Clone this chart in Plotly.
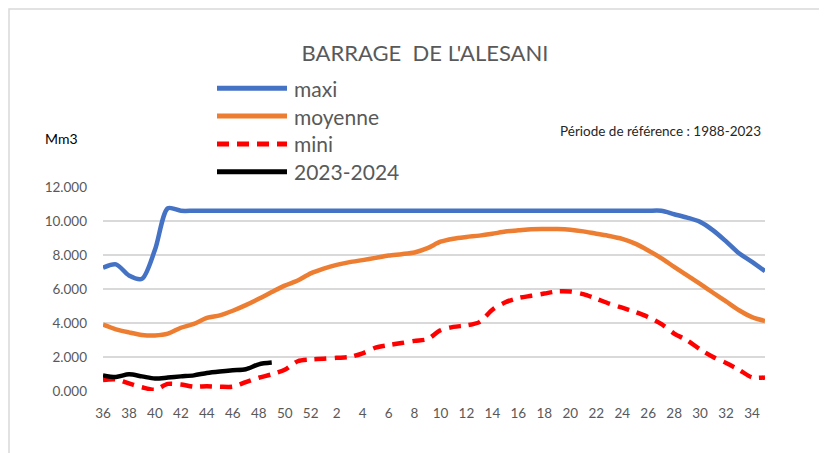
import plotly.graph_objects as go

# hydrological weeks, september -> august
weeks = ["36", "37", "38", "39", "40", "41", "42", "43", "44", "45", "46", "47", "48", "49", "50", "51", "52",
         "1", "2", "3", "4", "5", "6", "7", "8", "9", "10", "11", "12", "13", "14", "15", "16", "17", "18",
         "19", "20", "21", "22", "23", "24", "25", "26", "27", "28", "29", "30", "31", "32", "33", "34", "35"]

maxi = [7.25, 7.45, 6.8, 6.6, 8.3, 10.75, 10.6, 10.6, 10.6, 10.6, 10.6, 10.6, 10.6, 10.6, 10.6, 10.6, 10.6,
        10.6, 10.6, 10.6, 10.6, 10.6, 10.6, 10.6, 10.6, 10.6, 10.6, 10.6, 10.6, 10.6, 10.6, 10.6, 10.6, 10.6, 10.6,
        10.6, 10.6, 10.6, 10.6, 10.6, 10.6, 10.6, 10.6, 10.6, 10.4, 10.2, 9.95, 9.45, 8.8, 8.1, 7.6, 7.05]

moyenne = [3.9, 3.63, 3.45, 3.3, 3.27, 3.37, 3.72, 3.95, 4.3, 4.45, 4.72, 5.05, 5.42, 5.82, 6.2, 6.5, 6.92,
           7.2, 7.42, 7.58, 7.7, 7.83, 7.97, 8.05, 8.15, 8.4, 8.78, 8.96, 9.06, 9.14, 9.25, 9.38, 9.45, 9.52, 9.53,
           9.53, 9.49, 9.39, 9.25, 9.12, 8.95, 8.67, 8.27, 7.82, 7.3, 6.8, 6.3, 5.78, 5.27, 4.75, 4.35, 4.12]

mini = [0.65, 0.68, 0.45, 0.22, 0.08, 0.42, 0.38, 0.25, 0.28, 0.25, 0.25, 0.52, 0.78, 0.98, 1.25, 1.75, 1.85,
        1.9, 1.95, 2.0, 2.22, 2.55, 2.7, 2.82, 2.95, 3.05, 3.57, 3.77, 3.86, 4.05, 4.78, 5.22, 5.47, 5.6, 5.73,
        5.86, 5.85, 5.7, 5.43, 5.14, 4.9, 4.65, 4.35, 3.95, 3.38, 2.98, 2.45, 2.0, 1.65, 1.25, 0.8, 0.8]

current = [0.92, 0.83, 0.98, 0.86, 0.73, 0.79, 0.86, 0.92, 1.06, 1.15, 1.22, 1.28, 1.57, 1.67]

names = ["maxi", "moyenne", "mini", "2023-2024"]
colors = ["#4472C4", "#ED7D31", "#FF0000", "#000000"]
dashes = ["solid", "solid", "12px,8px", "solid"]
series = [maxi, moyenne, mini, current]

tick_weeks = weeks[::2]

# page body keeps its 8px margin, so the figure is drawn 8px in from the window corner
OFF = 8
W, H = 827 - OFF, 453 - OFF
L, R, T, B = 103 - OFF, 62, 187 - OFF, 62
FONT = "Lato"


def px(x):
    # window pixel -> paper x
    return (x - OFF - L) / (W - L - R)


def py(y):
    # window pixel -> paper y
    return (H - B - (y - OFF)) / (H - T - B)


fig = go.Figure()

for name, color, dash, values in zip(names, colors, dashes, series):
    fig.add_trace(go.Scatter(x=weeks[:len(values)], y=values, name=name, mode="lines",
                             line=dict(color=color, width=4.5, dash=dash, shape="spline", smoothing=0.8),
                             showlegend=False))

# legend drawn by hand so the swatches match the long excel ones
for i, (name, color, dash) in enumerate(zip(names, colors, dashes)):
    y = py(88.3 + i * 27.8)
    fig.add_shape(type="line", xref="paper", yref="paper", x0=px(217), x1=px(287), y0=y, y1=y,
                  line=dict(color=color, width=5, dash=dash))
    fig.add_annotation(text=name, xref="paper", yref="paper", x=px(292), y=y, xanchor="left",
                       yanchor="middle", showarrow=False, font=dict(family=FONT, size=21, color="#595959"))

fig.add_annotation(text="Mm3", xref="paper", yref="paper", x=px(43), y=py(138), xanchor="left",
                   yanchor="middle", showarrow=False, font=dict(family=FONT, size=14, color="#000000"))
fig.add_annotation(text="Période de référence : 1988-2023", xref="paper", yref="paper", x=px(763), y=py(130.5),
                   xanchor="right", yanchor="middle", showarrow=False,
                   font=dict(family=FONT, size=13.5, color="#262626"))

# chart frame (as close to the window corner as the page margin allows)
fig.add_shape(type="rect", xref="paper", yref="paper", x0=px(OFF + 1), x1=px(900), y0=py(500), y1=py(OFF + 1),
              line=dict(color="#d9d9d9", width=1.5), layer="below")

fig.update_layout(
    width=W, height=H, autosize=False,
    margin=dict(l=L, r=R, t=T, b=B),
    paper_bgcolor="white", plot_bgcolor="white",
    title=dict(text="BARRAGE  DE L'ALESANI", x=px(425), xref="paper", xanchor="center",
               y=1 - (53 - OFF) / H, yref="container", yanchor="middle",
               font=dict(family=FONT, size=22, color="#595959")),
    xaxis=dict(type="category", categoryorder="array", categoryarray=weeks, range=[0, len(weeks) - 1],
               tickvals=tick_weeks, ticktext=tick_weeks, showgrid=False, zeroline=False, showline=False,
               ticks="", ticklabelstandoff=12, tickfont=dict(family=FONT, size=13.5, color="#595959")),
    yaxis=dict(range=[0, 12], tickvals=[0, 2, 4, 6, 8, 10, 12], tickformat=".3f", showgrid=True,
               gridcolor="#d9d9d9", gridwidth=1.5, zeroline=False, showline=False, ticks="",
               ticklabelstandoff=15, tickfont=dict(family=FONT, size=13.5, color="#595959")),
    font=dict(family=FONT),
)

fig.write_html("out.html")
